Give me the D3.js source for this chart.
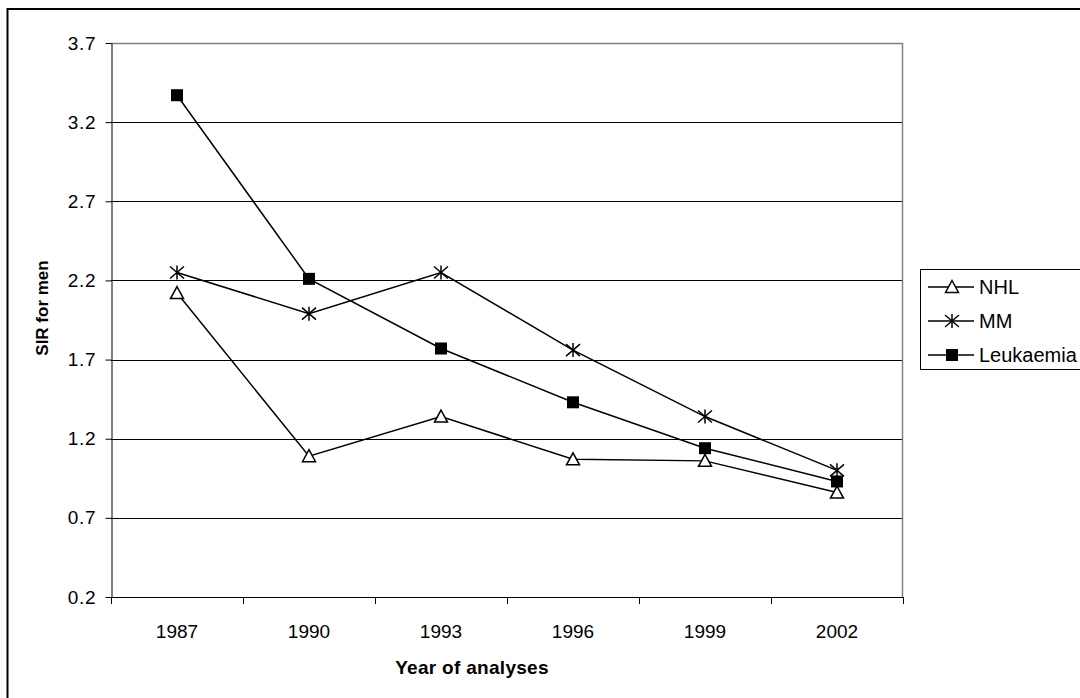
<!DOCTYPE html>
<html>
<head>
<meta charset="utf-8">
<script src="https://cdn.jsdelivr.net/npm/d3@7"></script>
<style>
  body { margin: 0; background: #fff; }
  svg { display: block; font-family: "Liberation Sans", Arial, sans-serif; }
</style>
</head>
<body>
<svg></svg>
<script>
const width = 1080;
const height = 698;

// данные графика
const years = ["1987", "1990", "1993", "1996", "1999", "2002"];
const nhl = [2.12, 1.09, 1.34, 1.07, 1.06, 0.86];
const mm = [2.25, 1.99, 2.25, 1.76, 1.34, 1.00];
const leukaemia = [3.37, 2.21, 1.77, 1.43, 1.14, 0.93];
const yTicks = [0.2, 0.7, 1.2, 1.7, 2.2, 2.7, 3.2, 3.7];

const series = [
    { name: "NHL", values: nhl, marker: "triangle" },
    { name: "MM", values: mm, marker: "star" },
    { name: "Leukaemia", values: leukaemia, marker: "square" }
];

const svg = d3.select("svg")
    .attr("width", width)
    .attr("height", height);

// внешняя рамка (уходит за правый и нижний край)
svg.append("rect")
    .attr("x", 7.5).attr("y", 9)
    .attr("width", 1200).attr("height", 800)
    .attr("fill", "none")
    .attr("stroke", "#000")
    .attr("stroke-width", 2);

const plotLeft = 111, plotRight = 903, plotTop = 43, plotBottom = 597;

const x = d3.scaleBand().domain(years).range([plotLeft, plotRight]);
const y = d3.scaleLinear().domain([0.2, 3.7]).range([plotBottom, plotTop]);

// сетка
svg.append("g")
    .selectAll("line")
    .data(yTicks.slice(1, -1))
    .join("line")
    .attr("x1", plotLeft).attr("x2", plotRight)
    .attr("y1", d => Math.round(y(d)) + 0.5)
    .attr("y2", d => Math.round(y(d)) + 0.5)
    .attr("stroke", "#000")
    .attr("stroke-width", 1);

// рамка области построения (верх и право)
svg.append("path")
    .attr("d", `M${plotLeft},${plotTop + 0.5}H${plotRight - 0.5}V${plotBottom}`)
    .attr("fill", "none")
    .attr("stroke", "#808080")
    .attr("stroke-width", 1.5);

// ось Y
const yAxis = svg.append("g")
    .attr("transform", `translate(${plotLeft + 0.5},0)`)
    .call(d3.axisLeft(y).tickValues(yTicks).tickSize(6).tickSizeOuter(0)
        .tickFormat(d3.format(".1f")));
yAxis.select(".domain").attr("stroke", "#000");
yAxis.selectAll(".tick line").attr("stroke", "#000");
yAxis.selectAll(".tick text")
    .attr("x", -15)
    .attr("font-size", 19)
    .attr("letter-spacing", 0.8)
    .attr("font-family", "Liberation Sans, Arial, sans-serif")
    .attr("fill", "#000");

// ось X
const xAxisG = svg.append("g");
xAxisG.append("line")
    .attr("x1", plotLeft).attr("x2", plotRight)
    .attr("y1", plotBottom + 0.5).attr("y2", plotBottom + 0.5)
    .attr("stroke", "#000");
const bounds = years.map(d => x(d)).concat([x.range()[1]]);
xAxisG.selectAll("line.tick")
    .data(bounds)
    .join("line")
    .attr("class", "tick")
    .attr("x1", d => Math.round(d) + 0.5).attr("x2", d => Math.round(d) + 0.5)
    .attr("y1", plotBottom).attr("y2", plotBottom + 7)
    .attr("stroke", "#000");
xAxisG.selectAll("text")
    .data(years)
    .join("text")
    .attr("x", d => x(d) + x.bandwidth() / 2)
    .attr("y", 638)
    .attr("text-anchor", "middle")
    .attr("font-size", 19)
    .text(d => d);

// подписи осей
svg.append("text")
    .attr("x", 472)
    .attr("y", 674)
    .attr("text-anchor", "middle")
    .attr("font-size", 19)
    .attr("font-weight", "bold")
    .attr("letter-spacing", 0.3)
    .text("Year of analyses");

svg.append("text")
    .attr("transform", "translate(48, 308) rotate(-90)")
    .attr("text-anchor", "middle")
    .attr("font-size", 17)
    .attr("font-weight", "bold")
    .text("SIR for men");

// маркеры
function drawMarker(g, type) {
    if (type === "triangle") {
        g.append("path")
            .attr("d", "M0,-6.5L6.5,5.5L-6.5,5.5Z")
            .attr("fill", "#fff")
            .attr("stroke", "#000")
            .attr("stroke-width", 1.5);
    } else if (type === "square") {
        g.append("rect")
            .attr("x", -6).attr("y", -6)
            .attr("width", 12).attr("height", 12)
            .attr("fill", "#000");
    } else if (type === "star") {
        g.append("path")
            .attr("d", "M0,-7V7M-7,-6L7,6M-7,6L7,-6")
            .attr("fill", "none")
            .attr("stroke", "#000")
            .attr("stroke-width", 1.5);
    }
}

const line = d3.line()
    .x((d, i) => x(years[i]) + x.bandwidth() / 2)
    .y(d => y(d));

series.forEach(s => {
    svg.append("path")
        .datum(s.values)
        .attr("d", line)
        .attr("fill", "none")
        .attr("stroke", "#000")
        .attr("stroke-width", 1.5);
});

series.forEach(s => {
    s.values.forEach((v, i) => {
        const g = svg.append("g")
            .attr("transform", `translate(${x(years[i]) + x.bandwidth() / 2}, ${y(v)})`);
        drawMarker(g, s.marker);
    });
});

// легенда
const legend = svg.append("g");
legend.append("rect")
    .attr("x", 920.5).attr("y", 269.5)
    .attr("width", 200).attr("height", 100)
    .attr("fill", "#fff")
    .attr("stroke", "#000")
    .attr("stroke-width", 1);

series.forEach((s, i) => {
    const ly = 287 + i * 34;
    legend.append("line")
        .attr("x1", 928).attr("x2", 974)
        .attr("y1", ly).attr("y2", ly)
        .attr("stroke", "#000")
        .attr("stroke-width", 1.5);
    const g = legend.append("g").attr("transform", `translate(952, ${ly})`);
    drawMarker(g, s.marker);
    legend.append("text")
        .attr("x", 979)
        .attr("y", ly)
        .attr("dy", "0.36em")
        .attr("font-size", 20)
        .text(s.name);
});
</script>
</body>
</html>
